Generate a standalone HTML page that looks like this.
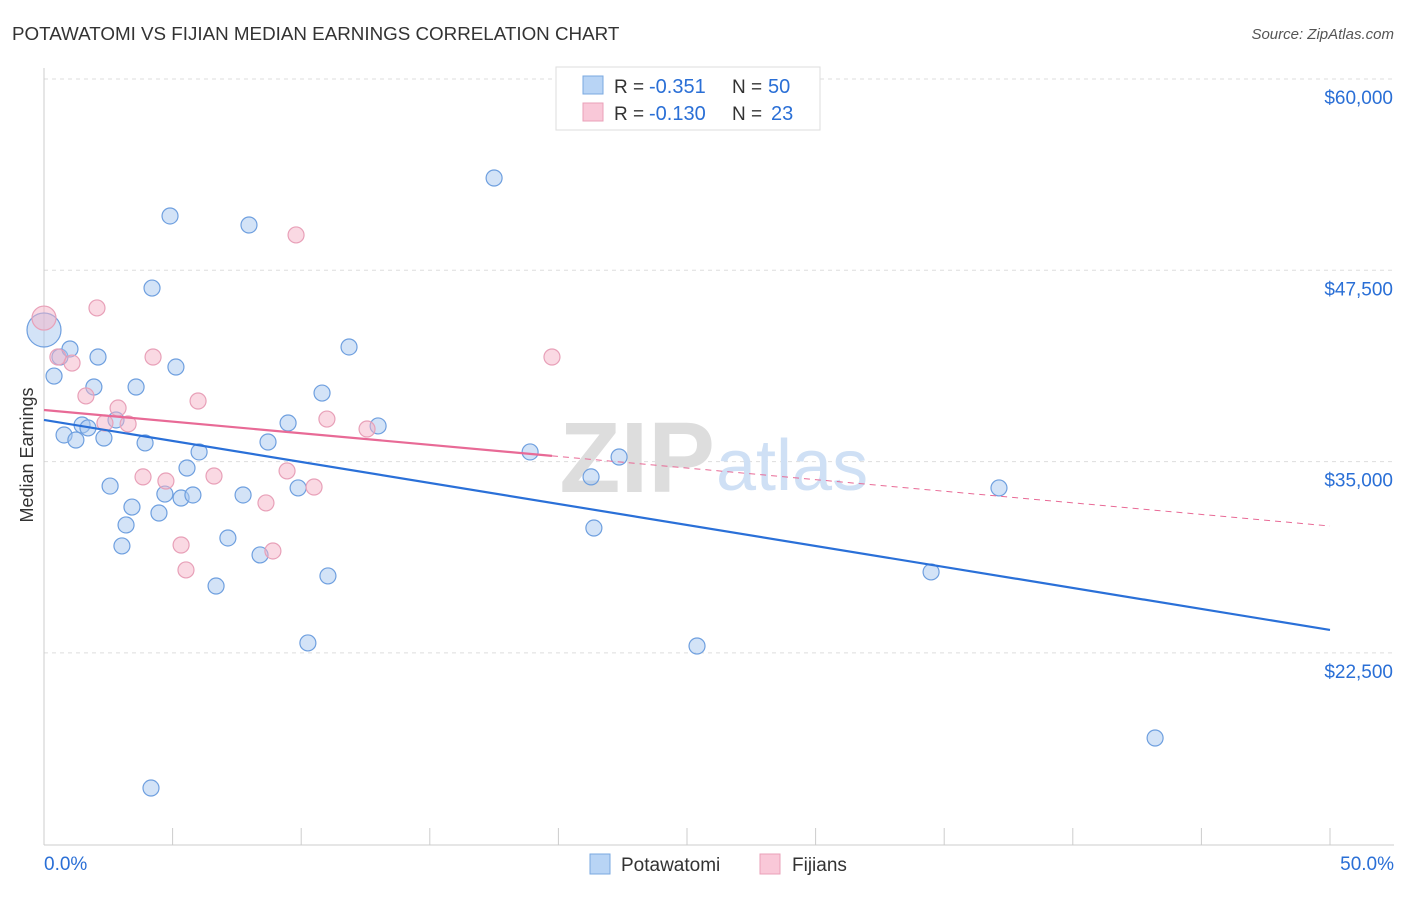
<!DOCTYPE html>
<html><head><meta charset="utf-8"><style>
body{margin:0;background:#fff;font-family:"Liberation Sans",sans-serif;}
svg text{font-family:"Liberation Sans",sans-serif;}
</style></head><body>
<svg id="chart" width="1406" height="892">
<text x="12" y="40" font-size="18.8" fill="#333">POTAWATOMI VS FIJIAN MEDIAN EARNINGS CORRELATION CHART</text>
<text x="1394" y="39" font-size="15" fill="#555" font-style="italic" text-anchor="end">Source: ZipAtlas.com</text>
<g id="grid"></g>
<text x="715" y="492" font-size="100" fill="#ddd" text-anchor="end" font-family="Liberation Serif" font-weight="bold">ZIP</text>
<text x="716" y="490" font-size="72" fill="#cfe0f5">atlas</text>
<g id="marks"></g>
<text transform="translate(33,455) rotate(-90)" font-size="18" fill="#333" text-anchor="middle">Median Earnings</text>
<g>
<rect x="556" y="67" width="264" height="63" fill="#fff" stroke="#ddd"/>
<rect x="583" y="76" width="20" height="18" fill="#b8d4f5" stroke="#7aa8e0"/>
<rect x="583" y="103" width="20" height="18" fill="#f9c8d8" stroke="#eaa0b8"/>
<text x="614" y="93" font-size="19" fill="#333">R =</text>
<text x="649" y="93" font-size="20" fill="#2a6fd6">-0.351</text>
<text x="732" y="93" font-size="19" fill="#333">N =</text>
<text x="768" y="93" font-size="20" fill="#2a6fd6">50</text>
<text x="614" y="120" font-size="19" fill="#333">R =</text>
<text x="649" y="120" font-size="20" fill="#2a6fd6">-0.130</text>
<text x="732" y="120" font-size="19" fill="#333">N =</text>
<text x="771" y="120" font-size="20" fill="#2a6fd6">23</text>
</g>
<g>
<rect x="590" y="854" width="20" height="20" fill="#b8d4f5" stroke="#7aa8e0"/>
<text x="621" y="871" font-size="19" fill="#333">Potawatomi</text>
<rect x="760" y="854" width="20" height="20" fill="#f9c8d8" stroke="#eaa0b8"/>
<text x="792" y="871" font-size="19" fill="#333">Fijians</text>
</g>
</svg>
<script>
const yTicks=[60000,47500,35000,22500];
const yTickLabels=["$60,000","$47,500","$35,000","$22,500"];
const xTicks=[0,5,10,15,20,25,30,35,40,45,50];
const blueX=[0,0.39,0.62,1.01,0.78,1.24,1.48,1.71,1.94,2.10,2.33,2.57,2.80,3.03,3.19,3.42,3.58,3.93,4.20,4.16,4.47,4.70,4.90,5.13,5.33,5.56,5.79,6.03,6.69,7.15,7.74,7.97,8.40,8.71,9.49,9.88,10.26,10.81,11.04,11.86,12.99,17.50,18.90,21.27,21.38,22.36,25.39,34.49,37.13,43.20];
const blueY=[43600,40590,41835,42360,36740,36410,37390,37200,39875,41835,36540,33400,37720,29490,30860,32030,39875,36220,46340,13670,31640,32880,51050,41180,32620,34580,32820,35630,26870,30010,32820,50460,28900,36280,37520,33280,23150,39480,27530,42490,37330,53530,35630,34000,30660,35300,22950,27790,33280,16940];
const pinkX=[0,0.54,1.09,1.63,2.06,2.37,2.88,3.27,3.85,4.24,4.74,5.33,5.52,5.99,6.61,8.63,8.90,9.45,9.80,10.50,11.00,12.56,19.75];
const pinkY=[44380,41835,41440,39290,45040,37520,38500,37460,34000,41835,33730,29550,27920,38960,34060,32300,29160,34390,49810,33340,37780,37130,41835];
const blueTrend=[37720,24000];
const pinkTrend=[38370,30790];
const pinkSolidEnd=19.75;
const NS="http://www.w3.org/2000/svg";
const xs=v=>44+v/50*1286;
const ys=v=>79+(60000-v)/12500*191.3;
const grid=document.getElementById('grid'),marks=document.getElementById('marks');
function mk(p,tag,a){const e=document.createElementNS(NS,tag);for(const k in a)e.setAttribute(k,a[k]);p.appendChild(e);return e;}
yTicks.forEach((t,i)=>{
 const l=mk(grid,'line',{x1:44,x2:1394,y1:ys(t),y2:ys(t),stroke:'#ddd','stroke-dasharray':'4,4'});
 
 
 const tx=mk(grid,'text',{x:1393,y:ys(t)+25,'font-size':19,fill:'#2a6fd6','text-anchor':'end'});
 tx.textContent=yTickLabels[i];
 
 
});
const ax=mk(grid,'line',{x1:44,x2:44,y1:68,y2:845,stroke:'#ccc'});


const bx=mk(grid,'line',{x1:44,x2:1394,y1:845,y2:845,stroke:'#ccc'});


xTicks.forEach(t=>{
 const l=mk(grid,'line',{x1:xs(t),x2:xs(t),y1:828,y2:845,stroke:'#ccc'});
 
 
});
[[0,'0.0%','start',44],[50,'50.0%','end',1394]].forEach(d=>{
 const tx=mk(grid,'text',{x:d[3],y:870,'font-size':19,fill:'#2a6fd6','text-anchor':d[2]});
 tx.textContent=d[1];
 
 
});
blueX.forEach((x,i)=>{
 const c=mk(marks,'circle',{cx:xs(x),cy:ys(blueY[i]),r:i==0?17:8,fill:'rgba(168,200,240,0.5)',stroke:'#6e9fdf','stroke-width':1.2});
 
 
});
pinkX.forEach((x,i)=>{
 const c=mk(marks,'circle',{cx:xs(x),cy:ys(pinkY[i]),r:i==0?12:8,fill:'rgba(245,180,200,0.5)',stroke:'#e8a0b8','stroke-width':1.2});
 
 
});
const pv=x=>pinkTrend[0]+(pinkTrend[1]-pinkTrend[0])*x/50;
const bl=mk(marks,'line',{x1:xs(0),y1:ys(blueTrend[0]),x2:xs(50),y2:ys(blueTrend[1]),stroke:'#2a70d8','stroke-width':2.2});


const pl=mk(marks,'line',{x1:xs(0),y1:ys(pv(0)),x2:xs(pinkSolidEnd),y2:ys(pv(pinkSolidEnd)),stroke:'#e86a96','stroke-width':2.2});


const pd=mk(marks,'line',{x1:xs(pinkSolidEnd),y1:ys(pv(pinkSolidEnd)),x2:xs(50),y2:ys(pv(50)),stroke:'#e86a96','stroke-width':1,'stroke-dasharray':'6,5'});


</script>
</body></html>
